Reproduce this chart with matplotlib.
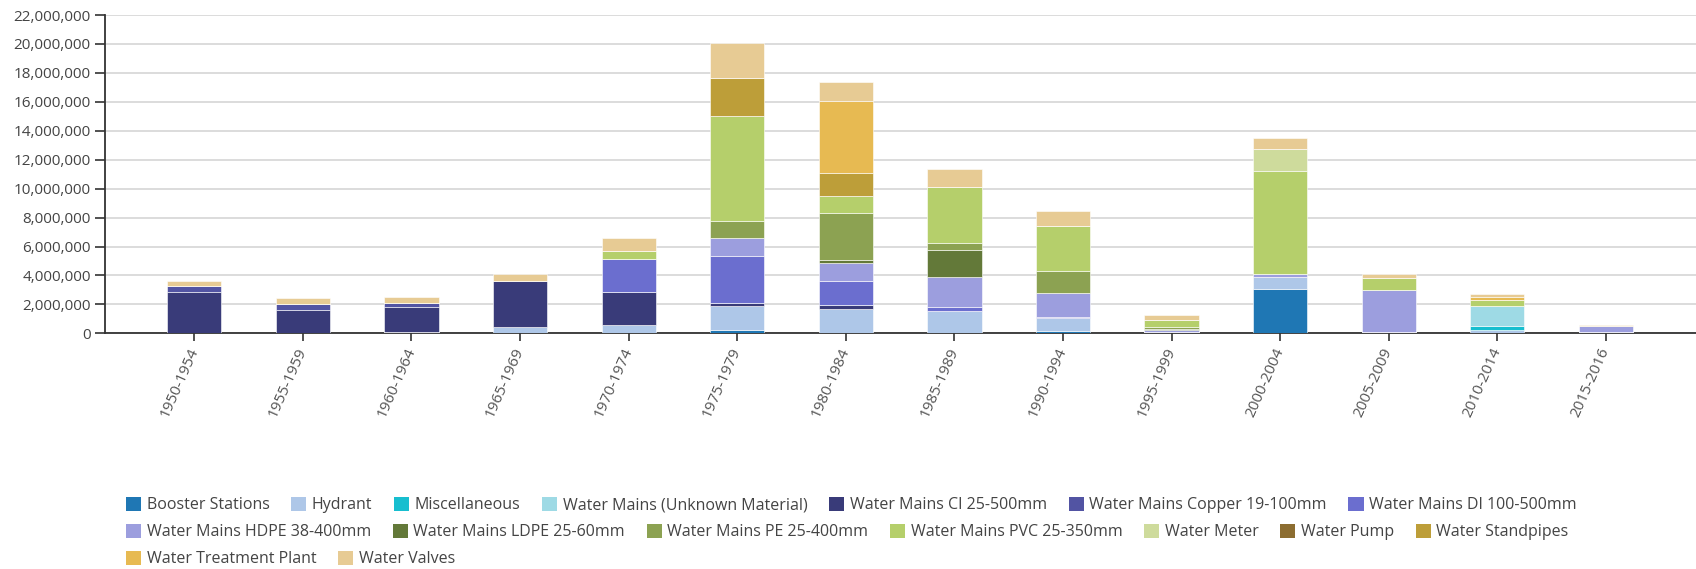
import matplotlib
matplotlib.use('Agg')
import matplotlib.pyplot as plt
import matplotlib.ticker as mticker
from matplotlib.patches import Patch
import numpy as np

plt.rcParams['font.family'] = ['Open Sans', 'DejaVu Sans']

periods = ['1950-1954', '1955-1959', '1960-1964', '1965-1969', '1970-1974',
           '1975-1979', '1980-1984', '1985-1989', '1990-1994', '1995-1999',
           '2000-2004', '2005-2009', '2010-2014', '2015-2016']

# asset replacement value per period, in millions
booster = [0, 0, 0.11, 0, 0, 0.23, 0, 0, 0.14, 0, 3.09, 0, 0, 0]
hydrant = [0, 0, 0, 0.41, 0.58, 1.66, 1.68, 1.57, 0.90, 0.10, 0.83, 0.10, 0.20, 0]
misc = [0, 0, 0, 0, 0, 0, 0, 0, 0, 0, 0, 0, 0.28, 0.11]
mains_unknown = [0, 0, 0, 0, 0, 0, 0, 0, 0, 0, 0, 0, 1.38, 0]
mains_ci = [2.88, 1.59, 1.69, 3.23, 2.30, 0.18, 0.28, 0, 0, 0, 0, 0, 0, 0]
mains_copper = [0.37, 0.46, 0.27, 0, 0, 0, 0, 0, 0, 0, 0, 0, 0, 0]
mains_di = [0, 0, 0, 0, 2.24, 3.25, 1.68, 0.23, 0.11, 0, 0, 0, 0, 0]
mains_hdpe = [0, 0, 0, 0, 0, 1.29, 1.20, 2.12, 1.64, 0.12, 0.18, 2.88, 0, 0.37]
mains_ldpe = [0, 0, 0, 0, 0, 0, 0.21, 1.86, 0, 0.10, 0, 0, 0, 0]
mains_pe = [0, 0, 0, 0, 0, 1.13, 3.24, 0.44, 1.50, 0.15, 0, 0, 0, 0]
mains_pvc = [0, 0, 0, 0, 0.57, 7.31, 1.20, 3.90, 3.15, 0.46, 7.14, 0.87, 0.46, 0]
meter = [0, 0, 0, 0, 0, 0, 0, 0, 0, 0, 1.48, 0, 0, 0]
pump = [0, 0, 0, 0, 0, 0, 0, 0, 0, 0, 0, 0, 0, 0]
standpipes = [0, 0, 0, 0, 0, 2.60, 1.57, 0, 0, 0, 0, 0, 0, 0]
treatment = [0, 0, 0, 0, 0, 0, 5.02, 0, 0, 0, 0, 0, 0.18, 0]
valves = [0.39, 0.39, 0.46, 0.46, 0.92, 2.42, 1.32, 1.24, 1.04, 0.32, 0.76, 0.23, 0.19, 0.10]

series = [
    ('Booster Stations', booster, '#1f77b4'),
    ('Hydrant', hydrant, '#aec7e8'),
    ('Miscellaneous', misc, '#17becf'),
    ('Water Mains (Unknown Material)', mains_unknown, '#9edae5'),
    ('Water Mains CI 25-500mm', mains_ci, '#393b79'),
    ('Water Mains Copper 19-100mm', mains_copper, '#5254a3'),
    ('Water Mains DI 100-500mm', mains_di, '#6b6ecf'),
    ('Water Mains HDPE 38-400mm', mains_hdpe, '#9c9ede'),
    ('Water Mains LDPE 25-60mm', mains_ldpe, '#637939'),
    ('Water Mains PE 25-400mm', mains_pe, '#8ca252'),
    ('Water Mains PVC 25-350mm', mains_pvc, '#b5cf6b'),
    ('Water Meter', meter, '#cedb9c'),
    ('Water Pump', pump, '#8c6d31'),
    ('Water Standpipes', standpipes, '#bd9e39'),
    ('Water Treatment Plant', treatment, '#e7ba52'),
    ('Water Valves', valves, '#e7cb94'),
]

fig = plt.figure(figsize=(16.96, 5.69), dpi=100)
ax = fig.add_axes([0.0617, 0.4142, 0.9383, 0.5594])

x = np.arange(len(periods))
bottom = np.zeros(len(periods))
for name, vals, color in series:
    v = np.array(vals) * 1e6
    ax.bar(x, v, width=0.5, bottom=bottom, color=color, edgecolor='#ffffff',
           linewidth=0.4, zorder=3)
    bottom += v

# axes styling
ax.set_xlim(-0.826, 13.83)
ax.set_ylim(0, 22e6)
ax.set_yticks(np.arange(0, 22e6 + 1, 2e6))
ax.yaxis.set_major_formatter(mticker.FuncFormatter(lambda v, p: '{:,.0f}'.format(v)))
ax.grid(axis='y', color='#dcdcdc', linewidth=1.4, zorder=0)
ax.set_axisbelow(True)
for s in ['top', 'right']:
    ax.spines[s].set_visible(False)
for s in ['left', 'bottom']:
    ax.spines[s].set_color('#333333')
    ax.spines[s].set_linewidth(1.3)

ax.set_xticks(x)
ax.set_xticklabels(periods, rotation=66, ha='right', va='center',
                   rotation_mode='anchor')
ax.tick_params(axis='y', length=7, width=1.2, color='#333333', labelsize=11,
               labelcolor='#444444', pad=3)
ax.tick_params(axis='x', length=6, width=1.2, color='#333333', labelsize=11,
               labelcolor='#555555', pad=5)

# legend laid out as three flowing rows
handles = [Patch(facecolor=c, edgecolor='none') for _, _, c in series]
labels = [n for n, _, _ in series]
rows = [(0, 7, 505), (7, 14, 532), (14, 16, 559)]
for start, stop, ypix in rows:
    leg = fig.legend(handles[start:stop], labels[start:stop], ncol=stop - start,
                     loc='center left', bbox_to_anchor=(126 / 1696, 1 - ypix / 569),
                     frameon=False, fontsize=11.5, handlelength=0.95,
                     handleheight=0.95, handletextpad=0.35, columnspacing=1.35,
                     borderpad=0, borderaxespad=0)
    for t in leg.get_texts():
        t.set_color('#444444')

fig.savefig('out.png', dpi=100)
